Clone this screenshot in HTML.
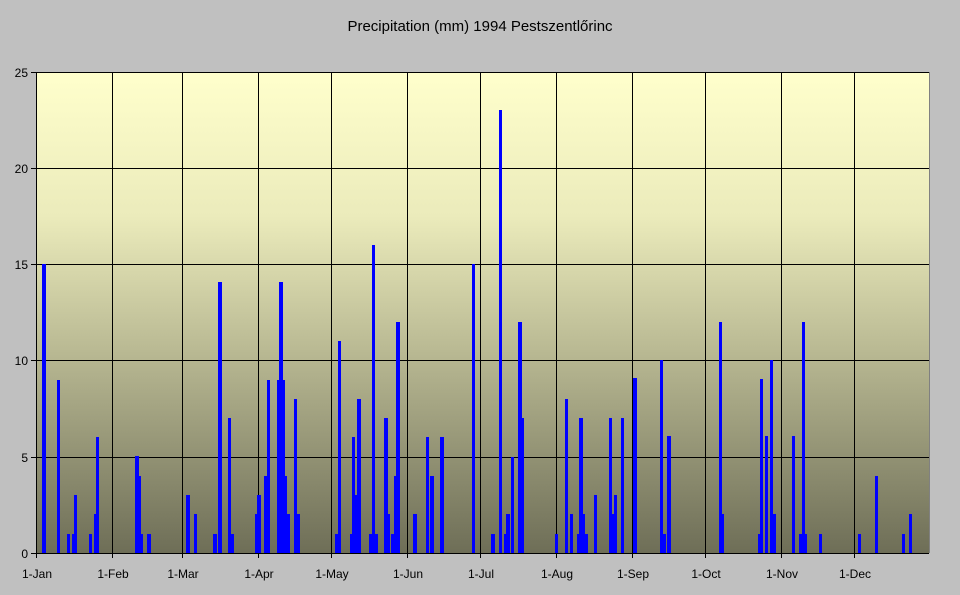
<!DOCTYPE html>
<html><head><meta charset="utf-8"><style>
html,body{margin:0;padding:0;background:#c0c0c0;}
svg{display:block;font-family:"Liberation Sans",sans-serif;}
</style></head><body>
<svg width="960" height="595" viewBox="0 0 960 595" xmlns="http://www.w3.org/2000/svg">
<defs><linearGradient id="g" x1="0" y1="0" x2="0" y2="1">
<stop offset="0" stop-color="#FFFFCC"/><stop offset="0.3" stop-color="#EBEBBB"/><stop offset="1" stop-color="#6E6E57"/></linearGradient></defs>
<rect width="960" height="595" fill="#c0c0c0"/>
<text x="480" y="31" font-size="15" text-anchor="middle" fill="#000">Precipitation (mm) 1994 Pestszentlőrinc</text>
<rect x="36" y="72" width="893" height="481" fill="url(#g)"/>
<g stroke="#000" stroke-width="1" shape-rendering="crispEdges">
<line x1="36" y1="72.5" x2="929" y2="72.5"/><line x1="36" y1="168.5" x2="929" y2="168.5"/><line x1="36" y1="264.5" x2="929" y2="264.5"/><line x1="36" y1="360.5" x2="929" y2="360.5"/><line x1="36" y1="457.5" x2="929" y2="457.5"/>
<line x1="112.5" y1="72" x2="112.5" y2="558"/><line x1="182.5" y1="72" x2="182.5" y2="558"/><line x1="258.5" y1="72" x2="258.5" y2="558"/><line x1="331.5" y1="72" x2="331.5" y2="558"/><line x1="407.5" y1="72" x2="407.5" y2="558"/><line x1="480.5" y1="72" x2="480.5" y2="558"/><line x1="556.5" y1="72" x2="556.5" y2="558"/><line x1="632.5" y1="72" x2="632.5" y2="558"/><line x1="705.5" y1="72" x2="705.5" y2="558"/><line x1="781.5" y1="72" x2="781.5" y2="558"/><line x1="854.5" y1="72" x2="854.5" y2="558"/>
<line x1="36.5" y1="72" x2="36.5" y2="558"/>
<line x1="31" y1="72.5" x2="36" y2="72.5"/><line x1="31" y1="168.5" x2="36" y2="168.5"/><line x1="31" y1="264.5" x2="36" y2="264.5"/><line x1="31" y1="360.5" x2="36" y2="360.5"/><line x1="31" y1="457.5" x2="36" y2="457.5"/><line x1="31" y1="553.5" x2="36" y2="553.5"/>
</g>
<line x1="929.5" y1="72" x2="929.5" y2="553" stroke="#808080" shape-rendering="crispEdges"/>
<g fill="#0000FF" shape-rendering="crispEdges">
<rect x="42" y="264" width="4" height="289"/>
<rect x="57" y="380" width="3" height="173"/>
<rect x="67" y="534" width="3" height="19"/>
<rect x="72" y="534" width="2" height="19"/>
<rect x="74" y="495" width="3" height="58"/>
<rect x="89" y="534" width="3" height="19"/>
<rect x="94" y="514" width="2" height="39"/>
<rect x="96" y="437" width="3" height="116"/>
<rect x="135" y="456" width="4" height="97"/>
<rect x="139" y="476" width="2" height="77"/>
<rect x="141" y="534" width="2" height="19"/>
<rect x="147" y="534" width="4" height="19"/>
<rect x="186" y="495" width="4" height="58"/>
<rect x="194" y="514" width="3" height="39"/>
<rect x="213" y="534" width="4" height="19"/>
<rect x="218" y="282" width="4" height="271"/>
<rect x="228" y="418" width="3" height="135"/>
<rect x="231" y="534" width="3" height="19"/>
<rect x="255" y="514" width="2" height="39"/>
<rect x="257" y="495" width="4" height="58"/>
<rect x="264" y="476" width="3" height="77"/>
<rect x="267" y="380" width="3" height="173"/>
<rect x="277" y="380" width="2" height="173"/>
<rect x="279" y="282" width="4" height="271"/>
<rect x="283" y="380" width="2" height="173"/>
<rect x="285" y="476" width="2" height="77"/>
<rect x="287" y="514" width="3" height="39"/>
<rect x="294" y="399" width="3" height="154"/>
<rect x="297" y="514" width="3" height="39"/>
<rect x="335" y="534" width="3" height="19"/>
<rect x="338" y="341" width="3" height="212"/>
<rect x="350" y="534" width="2" height="19"/>
<rect x="352" y="437" width="3" height="116"/>
<rect x="355" y="495" width="2" height="58"/>
<rect x="357" y="399" width="4" height="154"/>
<rect x="369" y="534" width="3" height="19"/>
<rect x="372" y="245" width="3" height="308"/>
<rect x="375" y="534" width="3" height="19"/>
<rect x="384" y="418" width="4" height="135"/>
<rect x="388" y="514" width="2" height="39"/>
<rect x="391" y="534" width="3" height="19"/>
<rect x="394" y="476" width="2" height="77"/>
<rect x="396" y="322" width="4" height="231"/>
<rect x="413" y="514" width="4" height="39"/>
<rect x="426" y="437" width="3" height="116"/>
<rect x="430" y="476" width="4" height="77"/>
<rect x="440" y="437" width="4" height="116"/>
<rect x="472" y="264" width="3" height="289"/>
<rect x="491" y="534" width="4" height="19"/>
<rect x="499" y="110" width="3" height="443"/>
<rect x="504" y="534" width="2" height="19"/>
<rect x="506" y="514" width="4" height="39"/>
<rect x="511" y="457" width="3" height="96"/>
<rect x="518" y="322" width="4" height="231"/>
<rect x="522" y="418" width="2" height="135"/>
<rect x="555" y="534" width="3" height="19"/>
<rect x="565" y="399" width="3" height="154"/>
<rect x="570" y="514" width="3" height="39"/>
<rect x="577" y="534" width="2" height="19"/>
<rect x="579" y="418" width="4" height="135"/>
<rect x="583" y="514" width="2" height="39"/>
<rect x="585" y="534" width="3" height="19"/>
<rect x="594" y="495" width="3" height="58"/>
<rect x="609" y="418" width="3" height="135"/>
<rect x="612" y="514" width="2" height="39"/>
<rect x="614" y="495" width="3" height="58"/>
<rect x="621" y="418" width="3" height="135"/>
<rect x="633" y="378" width="4" height="175"/>
<rect x="660" y="360" width="3" height="193"/>
<rect x="663" y="534" width="3" height="19"/>
<rect x="667" y="436" width="4" height="117"/>
<rect x="719" y="322" width="3" height="231"/>
<rect x="722" y="514" width="2" height="39"/>
<rect x="758" y="534" width="2" height="19"/>
<rect x="760" y="379" width="3" height="174"/>
<rect x="765" y="436" width="3" height="117"/>
<rect x="770" y="360" width="3" height="193"/>
<rect x="773" y="514" width="3" height="39"/>
<rect x="792" y="436" width="3" height="117"/>
<rect x="799" y="534" width="3" height="19"/>
<rect x="802" y="322" width="3" height="231"/>
<rect x="805" y="534" width="2" height="19"/>
<rect x="819" y="534" width="3" height="19"/>
<rect x="858" y="534" width="3" height="19"/>
<rect x="875" y="476" width="3" height="77"/>
<rect x="902" y="534" width="3" height="19"/>
<rect x="909" y="514" width="3" height="39"/>
</g>
<line x1="36" y1="553.5" x2="929" y2="553.5" stroke="#000" shape-rendering="crispEdges"/>
<g font-size="12" fill="#000" text-anchor="end">
<text x="28" y="77">25</text><text x="28" y="173">20</text><text x="28" y="269">15</text><text x="28" y="365">10</text><text x="28" y="462">5</text><text x="28" y="558">0</text>
</g>
<g font-size="12" fill="#000" text-anchor="middle">
<text x="37" y="578">1-Jan</text><text x="113" y="578">1-Feb</text><text x="183" y="578">1-Mar</text><text x="259" y="578">1-Apr</text><text x="332" y="578">1-May</text><text x="408" y="578">1-Jun</text><text x="481" y="578">1-Jul</text><text x="557" y="578">1-Aug</text><text x="633" y="578">1-Sep</text><text x="706" y="578">1-Oct</text><text x="782" y="578">1-Nov</text><text x="855" y="578">1-Dec</text>
</g>
</svg>
</body></html>
